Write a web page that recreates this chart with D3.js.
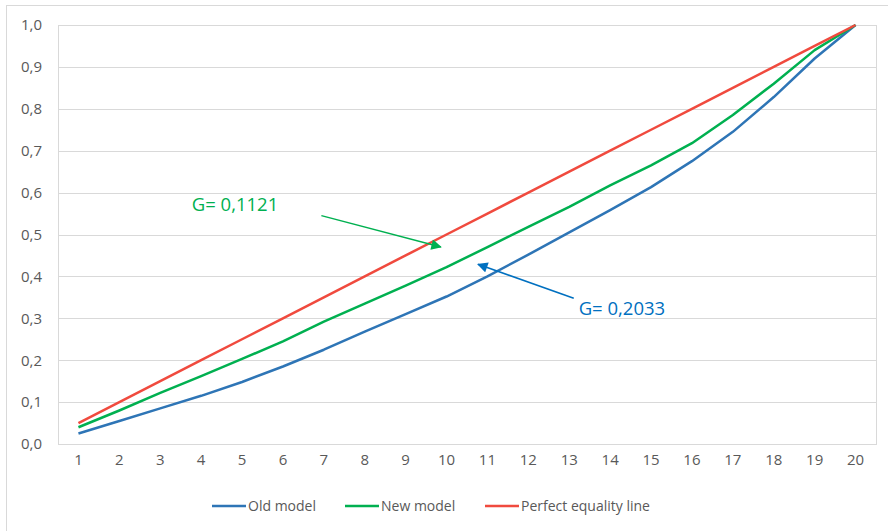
<!DOCTYPE html>
<html>
<head>
<meta charset="utf-8">
<script src="https://cdn.jsdelivr.net/npm/d3@7"></script>
<style>
  body { margin: 0; background: #fff; }
  text { font-family: "Open Sans", "Liberation Sans", sans-serif; }
</style>
</head>
<body>
<div id="chart"></div>
<script>
// Lorenz-style curves.
var categories = d3.range(1, 21);
var oldModel = [0.025, 0.055, 0.085, 0.115, 0.148, 0.185, 0.225, 0.268, 0.310, 0.352,
                0.400, 0.452, 0.505, 0.558, 0.613, 0.675, 0.745, 0.828, 0.920, 1.000];
var newModel = [0.040, 0.080, 0.122, 0.162, 0.203, 0.245, 0.292, 0.335, 0.378, 0.422,
                0.470, 0.518, 0.566, 0.617, 0.665, 0.718, 0.785, 0.860, 0.940, 1.000];
var equality = [0.05, 0.10, 0.15, 0.20, 0.25, 0.30, 0.35, 0.40, 0.45, 0.50,
                0.55, 0.60, 0.65, 0.70, 0.75, 0.80, 0.85, 0.90, 0.95, 1.00];
var yTicks = [0, 0.1, 0.2, 0.3, 0.4, 0.5, 0.6, 0.7, 0.8, 0.9, 1.0];

var series = [
    {name: 'Old model', values: oldModel, color: '#2E75B6'},
    {name: 'New model', values: newModel, color: '#00B050'},
    {name: 'Perfect equality line', values: equality, color: '#F04A3E'}
];

// annotations: label text, anchor point of label, arrow from/to in data units
var notes = [
    {text: 'G= 0,1121', color: '#00B050', lx: 3.77, ly: 0.557, from: [6.94, 0.545], to: [9.86, 0.47]},
    {text: 'G= 0,2033', color: '#0070C0', lx: 13.23, ly: 0.307, from: [13.11, 0.348], to: [10.77, 0.429]}
];

var W = 888, H = 531;
var plot = {left: 58, top: 25, right: 876, bottom: 444};

var svg = d3.select('#chart').append('svg')
    .attr('width', W).attr('height', H);

// chart area border
svg.append('rect')
    .attr('x', 6.5).attr('y', 5.5)
    .attr('width', W).attr('height', H)
    .attr('fill', '#fff').attr('stroke', '#d9d9d9');

var x = d3.scaleBand().domain(categories)
    .range([plot.left, plot.right]);
var xc = function(d){ return x(d) + x.bandwidth() / 2; };
var y = d3.scaleLinear().domain([0, 1]).range([plot.bottom, plot.top]);
var xLin = d3.scaleLinear().domain([1, 20]).range([xc(1), xc(20)]);

// gridlines
svg.append('g').selectAll('line').data(yTicks).enter().append('line')
    .attr('x1', plot.left).attr('x2', plot.right)
    .attr('y1', function(d){ return Math.round(y(d)) + 0.5; })
    .attr('y2', function(d){ return Math.round(y(d)) + 0.5; })
    .attr('stroke', '#d9d9d9').attr('stroke-width', 1);

// plot area border
svg.append('rect')
    .attr('x', plot.left + 0.5).attr('y', plot.top + 0.5)
    .attr('width', plot.right - plot.left).attr('height', plot.bottom - plot.top)
    .attr('fill', 'none').attr('stroke', '#d9d9d9');

// y axis labels
var fmt = function(d){ return d3.format('.1f')(d).replace('.', ','); };
var yAxis = svg.append('g')
    .attr('transform', 'translate(' + plot.left + ',0)')
    .call(d3.axisLeft(y).tickValues(yTicks).tickFormat(fmt).tickSize(0).tickPadding(16));
yAxis.select('.domain').remove();
yAxis.selectAll('text').attr('fill', '#595959').style('font-size', '15px')
    .style('font-family', '"Open Sans", sans-serif');

// x axis labels
var xAxis = svg.append('g')
    .attr('transform', 'translate(0,' + plot.bottom + ')')
    .call(d3.axisBottom(x).tickSize(0).tickPadding(10));
xAxis.select('.domain').remove();
xAxis.selectAll('text').attr('fill', '#595959').style('font-size', '15px')
    .style('font-family', '"Open Sans", sans-serif');

// lines
var line = d3.line()
    .x(function(d, i){ return xc(categories[i]); })
    .y(function(d){ return y(d); });

svg.append('g').selectAll('path').data(series).enter().append('path')
    .attr('d', function(s){ return line(s.values); })
    .attr('fill', 'none')
    .attr('stroke', function(s){ return s.color; })
    .attr('stroke-width', 2.5)
    .attr('stroke-linejoin', 'round');

// arrow markers
var defs = svg.append('defs');
notes.forEach(function(n, i){
    defs.append('marker')
        .attr('id', 'arrow' + i)
        .attr('viewBox', '0 0 10 10')
        .attr('refX', 9).attr('refY', 5)
        .attr('markerWidth', 8).attr('markerHeight', 7)
        .attr('markerUnits', 'strokeWidth')
        .attr('orient', 'auto')
        .append('path').attr('d', 'M0,0 L10,5 L0,10 z')
        .attr('fill', n.color);
});

var ann = svg.append('g');
notes.forEach(function(n, i){
    ann.append('line')
        .attr('x1', xLin(n.from[0])).attr('y1', y(n.from[1]))
        .attr('x2', xLin(n.to[0])).attr('y2', y(n.to[1]))
        .attr('stroke', n.color).attr('stroke-width', 1.5)
        .attr('marker-end', 'url(#arrow' + i + ')');
    ann.append('text')
        .attr('x', xLin(n.lx)).attr('y', y(n.ly))
        .attr('fill', n.color)
        .style('font-size', '18.5px')
        .text(n.text);
});

// legend
var legendX = [212, 345, 485];
var legend = svg.append('g').selectAll('g').data(series).enter().append('g')
    .attr('transform', function(d, i){ return 'translate(' + legendX[i] + ',506)'; });
legend.append('line')
    .attr('x1', 0).attr('x2', 34).attr('y1', 0).attr('y2', 0)
    .attr('stroke', function(d){ return d.color; }).attr('stroke-width', 2.5);
legend.append('text')
    .attr('x', 36).attr('y', 0).attr('dy', '0.35em')
    .attr('fill', '#595959').style('font-size', '14px')
    .text(function(d){ return d.name; });
</script>
</body>
</html>
